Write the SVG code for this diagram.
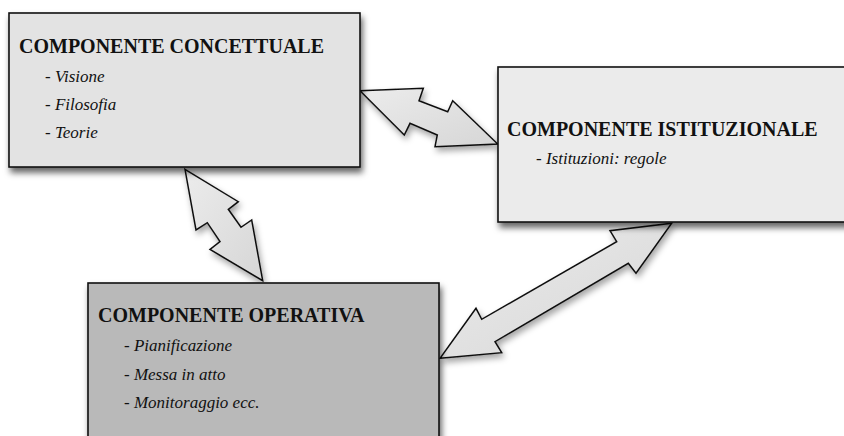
<svg xmlns="http://www.w3.org/2000/svg" width="844" height="436" viewBox="0 0 844 436">
  <defs>
    <filter id="shadow" x="-10%" y="-10%" width="130%" height="140%">
      <feDropShadow dx="2" dy="5" stdDeviation="3" flood-color="#000" flood-opacity="0.6"/>
    </filter>
    <filter id="ashadow" x="-20%" y="-20%" width="150%" height="150%">
      <feDropShadow dx="2" dy="4" stdDeviation="3" flood-color="#000" flood-opacity="0.35"/>
    </filter>
    <linearGradient id="agrad" x1="0" y1="0" x2="1" y2="1">
      <stop offset="0" stop-color="#ececec"/>
      <stop offset="1" stop-color="#d6d6d6"/>
    </linearGradient>
  </defs>
  <style>
    .box { stroke: #111; stroke-width: 1.6; filter: url(#shadow); }
    .title { font-family: "Liberation Serif", "Times New Roman", serif; font-weight: bold; font-size: 20px; fill: #111; }
    .item { font-family: "Liberation Serif", "Times New Roman", serif; font-style: italic; font-size: 17px; fill: #111; }
    .arrow { fill: url(#agrad); stroke: #111; stroke-width: 1.5; stroke-linejoin: miter; filter: url(#ashadow); }
  </style>
  <rect width="844" height="436" fill="#ffffff"/>

  <g id="connectors">
    <polygon class="arrow" points="360,90.7 423.3,88.3 419,100.7 447.7,111.7 452.7,100.7 497.7,144 435,146.7 437.3,135 410,123.3 404.3,135"/>
    <polygon class="arrow" points="185,169.3 238.3,201.7 228.3,209.3 241,227.3 251.7,220 262.7,280.7 210,249.3 220,241.7 207.3,222.7 196,230"/>
    <polygon class="arrow" points="440,358.3 501.7,352.7 495,341.7 628.3,263.3 636,273.3 671.7,223.3 610,230.7 616.7,241.7 481.7,319.3 476,308.3"/>
  </g>

  <g id="node-concettuale">
    <rect class="box" x="9" y="13" width="351" height="154" fill="#e3e3e3"/>
    <text class="title" x="19" y="53">COMPONENTE CONCETTUALE</text>
    <text class="item" x="45" y="82">- Visione</text>
    <text class="item" x="45" y="110">- Filosofia</text>
    <text class="item" x="45" y="138">- Teorie</text>
  </g>

  <g id="node-istituzionale">
    <rect class="box" x="498" y="67" width="360" height="155" fill="#ebebeb"/>
    <text class="title" x="507" y="136">COMPONENTE ISTITUZIONALE</text>
    <text class="item" x="536" y="164">- Istituzioni: regole</text>
  </g>

  <g id="node-operativa">
    <rect class="box" x="88" y="283" width="351" height="170" fill="#b9b9b9"/>
    <text class="title" x="98" y="322">COMPONENTE OPERATIVA</text>
    <text class="item" x="124" y="351">- Pianificazione</text>
    <text class="item" x="124" y="380">- Messa in atto</text>
    <text class="item" x="124" y="408">- Monitoraggio ecc.</text>
  </g>
</svg>
